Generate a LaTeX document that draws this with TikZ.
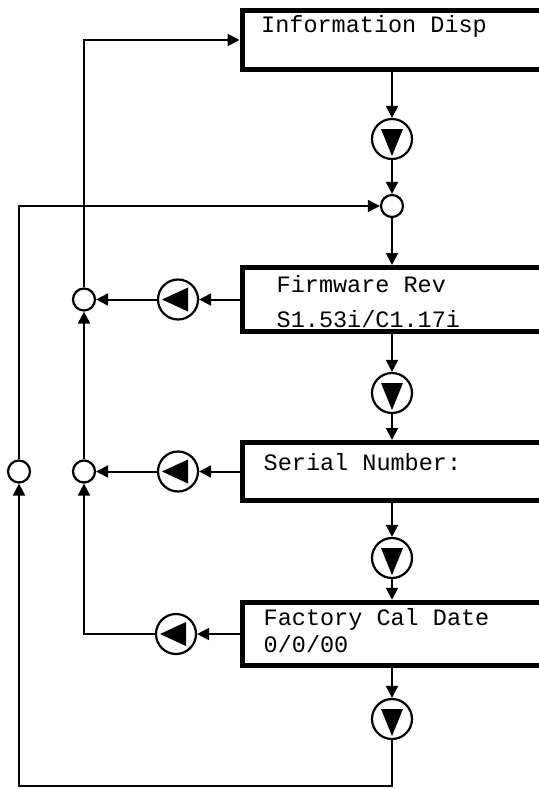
\documentclass[tikz,border=0pt]{standalone}
\usepackage{fontspec}
\newfontfamily\lcdfont{Liberation Mono}
\usetikzlibrary{arrows.meta}
\tikzset{
  lcd/.style     = {draw, line width=5pt, minimum width=320pt, inner sep=0pt,
                    anchor=west},
  lcdtxt/.style  = {font=\lcdfont\fontsize{23.5}{26}\selectfont, inner sep=0pt,
                    anchor=base west},
  btndn/.style   = {circle, draw, line width=2.2pt, minimum size=40pt, inner sep=0pt,
                    path picture={\fill (path picture bounding box.center)
                      ++(-11,-10) -- ++(22,0) -- ++(-11,27) -- cycle;}},
  btnlt/.style   = {circle, draw, line width=2.2pt, minimum size=40pt, inner sep=0pt,
                    path picture={\fill (path picture bounding box.center)
                      ++(-16,0) -- ++(26,-12) -- ++(0,24) -- cycle;}},
  joint/.style   = {circle, draw, line width=2.2pt, minimum size=22pt, inner sep=0pt},
  arr/.style     = {-{Triangle[length=12pt,width=12pt]}, line width=2pt},
}

\begin{document}
\begin{tikzpicture}[x=1pt,y=-1pt]
  \useasboundingbox (0,0) rectangle (538,789);
  % display boxes
  \node[lcd, minimum height=59.5pt] (info) at (239.5,40) {};
  \node[lcd, minimum height=64pt]   (fw)   at (239.5,299.5) {};
  \node[lcd, minimum height=58pt]   (sn)   at (239.5,471.5) {};
  \node[lcd, minimum height=63.5pt] (cal)  at (239.5,634) {};
  \node[lcdtxt] (tinfo) at (261,33)  {Information Disp};
  \node[lcdtxt] (tfw1)  at (276.5,292) {Firmware Rev};
  \node[lcdtxt] (tfw2)  at (276.5,327) {S1.53i/C1.17i};
  \node[lcdtxt] (tsn)   at (263.5,470) {Serial Number:};
  \node[lcdtxt] (tcal1) at (263.5,625) {Factory Cal Date};
  \node[lcdtxt] (tcal2) at (263.5,652) {0/0/00};
  % keys
  \node[btndn] (dn1) at (392,139) {};
  \node[btndn] (dn2) at (392,393) {};
  \node[btndn] (dn3) at (392,558) {};
  \node[btndn] (dn4) at (392,719) {};
  \node[btnlt] (lb2) at (178,299.5) {};
  \node[btnlt] (lb3) at (178,471.5) {};
  \node[btnlt] (lb4) at (176,634) {};
  % junctions
  \node[joint] (join) at (392,206) {};
  \node[joint] (jr2)  at (84,299.5) {};
  \node[joint] (jr3)  at (84,471.5) {};
  \node[joint] (jo)   at (19,471.5) {};
  \coordinate (bot) at (392,786);

  \draw[arr] (dn1 |- info.south) -- (dn1);
  \draw[arr] (dn1) -- (join);
  \draw[arr] (join) -- (join |- fw.north);
  \draw[arr] (dn2 |- fw.south) -- (dn2);
  \draw[arr] (dn2) -- (dn2 |- sn.north);
  \draw[arr] (dn3 |- sn.south) -- (dn3);
  \draw[arr] (dn3) -- (dn3 |- cal.north);
  \draw[arr] (dn4 |- cal.south) -- (dn4);

  \draw[arr] (fw.west) -- (lb2);
  \draw[arr] (lb2) -- (jr2);
  \draw[arr] (sn.west) -- (lb3);
  \draw[arr] (lb3) -- (jr3);
  \draw[arr] (cal.west) -- (lb4);
  \draw[arr] (lb4) -| (jr3);
  \draw[arr] (jr3) -- (jr2);
  \draw[arr] (jr2) |- (info.west);

  \draw[arr] (dn4) -- (bot) -| (jo);
  \draw[arr] (jo) |- (join);
\end{tikzpicture}
\end{document}
